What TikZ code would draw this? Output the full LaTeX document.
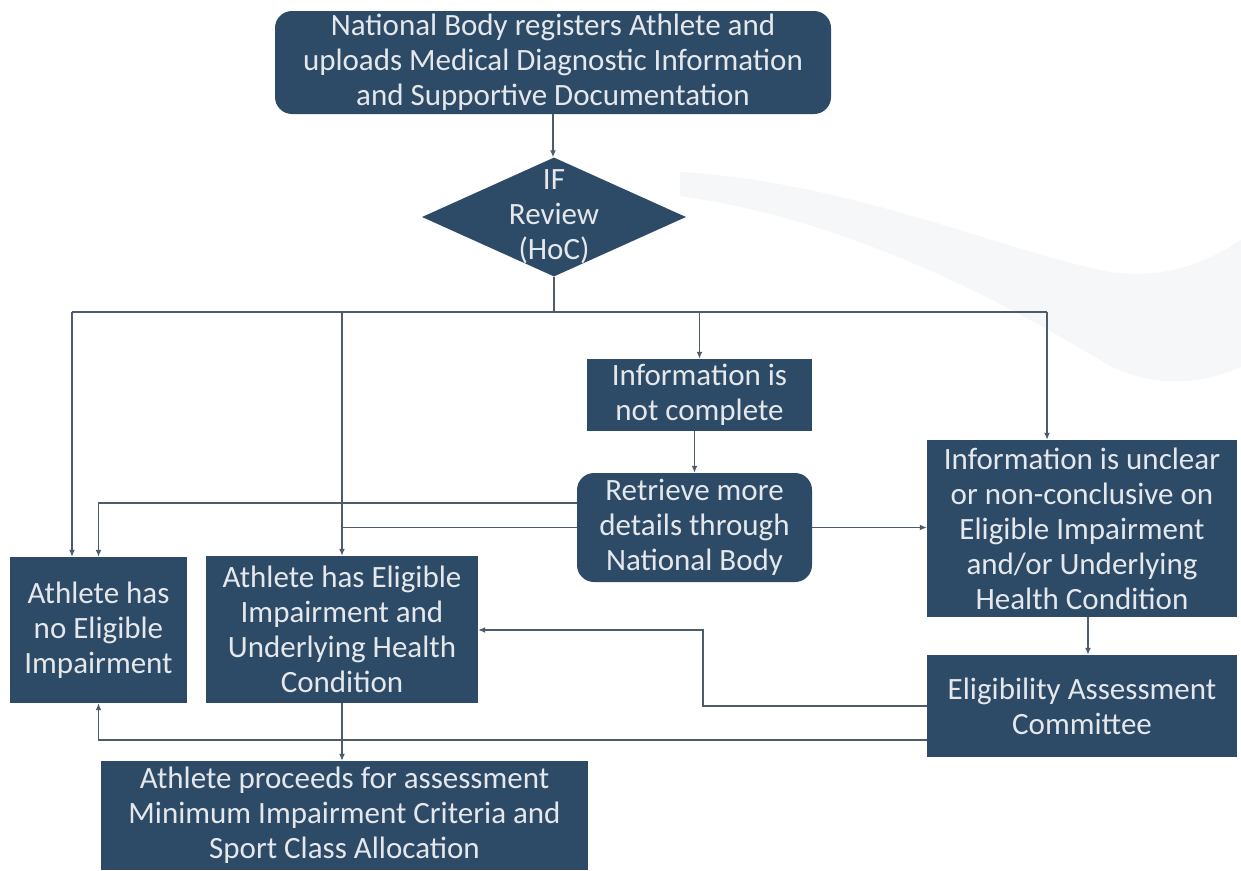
\documentclass[tikz,border=0pt]{standalone}
\usepackage{fontspec}
\setmainfont{Carlito}
\usetikzlibrary{arrows.meta,shapes.geometric}
\definecolor{boxfill}{HTML}{2D4A66}
\definecolor{linec}{HTML}{4E5C6A}
\definecolor{txtc}{HTML}{E4E8EC}
\definecolor{swoosh}{HTML}{F6F7F8}
\begin{document}
\begin{tikzpicture}[x=1pt,y=-1pt,
  txt/.style={text=txtc, align=center, inner sep=0pt, font=\fontsize{31}{35}\selectfont},
  box/.style={txt, fill=boxfill, draw=none},
  rbox/.style={box, rounded corners=17pt},
  conn/.style={draw=linec, line width=1.6pt},
  arr/.style={conn, -{Latex[length=7pt,width=6pt]}},
]
\useasboundingbox (0,0) rectangle (1241,870);
\fill[white] (0,0) rectangle (1241,870);
% faint background swoosh
\fill[swoosh] (680,172) .. controls (850,182) and (1000,250) .. (1110,272)
  .. controls (1170,280) and (1210,260) .. (1241,240) -- (1241,367)
  .. controls (1200,385) and (1150,390) .. (1100,360)
  .. controls (1000,300) and (850,220) .. (680,196) -- cycle;

% nodes
\node[rbox, minimum width=556pt, minimum height=103pt] (top) at (553,62.5)
  {National Body registers Athlete and\\uploads Medical Diagnostic Information\\and Supportive Documentation};
\node[diamond, fill=boxfill, inner sep=0pt, minimum width=264pt, minimum height=119pt] (dia) at (554,217) {};
\node[txt] (diat) at (554,217) {IF\\Review\\(HoC)};
\node[box, minimum width=225pt, minimum height=72pt] (notc) at (699.5,395) {Information is\\not complete};
\node[rbox, minimum width=235pt, minimum height=109pt] (retr) at (694.5,527.5) {Retrieve more\\details through\\National Body};
\node[box, minimum width=310pt, minimum height=177pt] (uncl) at (1082,528.5)
  {Information is unclear\\or non-conclusive on\\Eligible Impairment\\and/or Underlying\\Health Condition};
\node[box, minimum width=310pt, minimum height=102pt] (elig) at (1082,706) {Eligibility Assessment\\Committee};
\node[box, minimum width=177pt, minimum height=146pt] (ano) at (98.5,630) {Athlete has\\no Eligible\\Impairment};
\node[box, minimum width=272pt, minimum height=147pt] (ahas) at (342,629.5)
  {Athlete has Eligible\\Impairment and\\Underlying Health\\Condition};
\node[box, minimum width=487pt, minimum height=109pt] (proc) at (344.5,815.5)
  {Athlete proceeds for assessment\\Minimum Impairment Criteria and\\Sport Class Allocation};

% connectors
\coordinate (hl) at (72,312);
\coordinate (hr) at (1047,312);
\coordinate (k) at (703,630);
\draw[arr] (top.south) -- (top.south |- dia.north);
\draw[conn] (dia.south) -- (dia.south |- hl);
\draw[conn] (hl) -- (hr);
\draw[arr] (hl) -- (hl |- ano.north);
\draw[arr] (ahas.north |- hl) -- (ahas.north);
\draw[arr] (notc.north |- hl) -- (notc.north);
\draw[arr] (hr) -- (hr |- uncl.north);
\draw[arr] (retr.north |- notc.south) -- (retr.north);
\draw[arr] ([yshift=24.5pt]retr.west) -| (ano.north);
\draw[conn] (retr.west) -- (retr.west -| ahas.north);
\draw[arr] (retr.east) -- (retr.east -| uncl.west);
\draw[arr] ([xshift=6pt]uncl.south) -- ([xshift=6pt]elig.north);
\draw[arr] (elig.west) -| (k) -- (k -| ahas.east);
\draw[arr] ([yshift=-34pt]elig.west) -| (ano.south);
\draw[arr] (ahas.south) -- (ahas.south |- proc.north);
\end{tikzpicture}
\end{document}
